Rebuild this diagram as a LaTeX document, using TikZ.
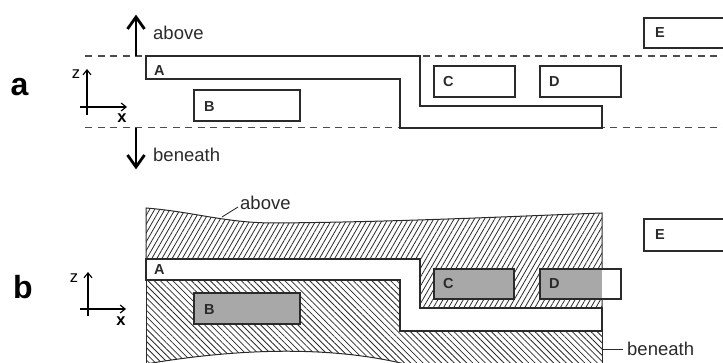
\documentclass[tikz,border=0pt]{standalone}
\usepackage{fontspec}
\setmainfont{Liberation Sans}
\usetikzlibrary{arrows.meta,patterns.meta}
\definecolor{boxgray}{HTML}{A8A8A8}
\definecolor{ink}{HTML}{2A2A2A}
\begin{document}
\begin{tikzpicture}[x=1pt,y=-1pt,
  box/.style={draw=ink, line width=1.6pt},
  lbl/.style={font=\bfseries\fontsize{14.5}{15}\selectfont, anchor=west, inner sep=0pt, text=ink},
  txt/.style={font=\fontsize{18.5}{19}\selectfont, inner sep=0pt, anchor=west, text=ink},
  panel/.style={font=\bfseries\fontsize{32}{32}\selectfont, inner sep=0pt},
  axlbl/.style={font=\fontsize{16.5}{17}\selectfont, inner sep=0pt},
  bigshaft/.style={draw=black, line width=2.6pt},
  bighead/.style={draw=black, line width=2.8pt, line join=miter, miter limit=10},
  axarrow/.style={draw=black, line width=1.1pt, -{Straight Barb[length=5pt,width=8pt,line width=1.1pt]}},
  dashline/.style={draw=black!70, line width=1.1pt, dash pattern=on 7pt off 5.5pt},
  hatchup/.style={pattern={Lines[angle=60,distance=4.4pt,line width=0.8pt]}, pattern color=ink},
  hatchdown/.style={pattern={Lines[angle=-45,distance=4.4pt,line width=0.8pt]}, pattern color=ink},
  thin/.style={draw=ink, line width=1pt}]
\useasboundingbox (0,0) rectangle (723,363);
\clip (0,0) rectangle (723,363);

% ---------------- panel a ----------------
\node[panel] (pa) at (19.5,87) {a};
\draw[dashline] (85,56) -- (723,56);
\draw[dashline] (85,127.5) -- (723,127.5);

\coordinate (aup0) at (136,56);
\coordinate (aup1) at (136,17);
\draw[bigshaft] (aup0) -- (aup1);
\draw[bighead] ([xshift=-8.5pt,yshift=-12pt]aup1) -- (aup1) -- ([xshift=8.5pt,yshift=-12pt]aup1);
\node[txt] (aabove) at (153,33) {above};
\coordinate (adn0) at (136,128);
\coordinate (adn1) at (136,167);
\draw[bigshaft] (adn0) -- (adn1);
\draw[bighead] ([xshift=-8.5pt,yshift=12pt]adn1) -- (adn1) -- ([xshift=8.5pt,yshift=12pt]adn1);
\node[txt] (abeneath) at (153,155) {beneath};

\coordinate (az0) at (87,115);
\coordinate (az1) at (87,69);
\coordinate (ax0) at (80,107);
\coordinate (ax1) at (127,107);
\draw[axarrow] (az0) -- (az1);
\draw[axarrow] (ax0) -- (ax1);
\node[axlbl] (azl) at (76,74) {z};
\node[axlbl,font=\bfseries\fontsize{16.5}{17}\selectfont] (axl) at (122,118) {x};

\draw[box, fill=white] (146,56) -- (420,56) -- (420,106) -- (602,106) -- (602,128) -- (400,128) -- (400,79) -- (146,79) -- cycle;
\node[lbl] (aA) at (154,70.5) {A};

\node[box, anchor=north west, minimum width=106pt, minimum height=31pt, inner sep=0pt] (aB) at (193,89) {};
\node[lbl] (aBl) at ([xshift=11pt,yshift=-1pt]aB.west) {B};
\node[box, anchor=north west, minimum width=81pt, minimum height=31pt, inner sep=0pt] (aC) at (433,65) {};
\node[lbl] (aCl) at ([xshift=10pt]aC.west) {C};
\node[box, anchor=north west, minimum width=81pt, minimum height=31pt, inner sep=0pt] (aD) at (539,65) {};
\node[lbl] (aDl) at ([xshift=10pt]aD.west) {D};
\node[box, anchor=north west, minimum width=100pt, minimum height=30pt, inner sep=0pt] (aE) at (643,17) {};
\node[lbl] (aEl) at ([xshift=12pt]aE.west) {E};

% ---------------- panel b ----------------
\node[panel] (pb) at (23,287) {b};

\coordinate (bz0) at (88,316);
\coordinate (bz1) at (88,272);
\coordinate (bx0) at (80,309);
\coordinate (bx1) at (126,309);
\draw[axarrow] (bz0) -- (bz1);
\draw[axarrow] (bx0) -- (bx1);
\node[axlbl] (bzl) at (74,278) {z};
\node[axlbl,font=\bfseries\fontsize{16.5}{17}\selectfont] (bxl) at (121,321) {x};

% upper hatched region (above)
\path[hatchup] (146,208) .. controls (195,212) and (225,223) .. (275,223) .. controls (400,222) and (520,216) .. (602,213) -- (602,308) -- (420,308) -- (420,259) -- (146,259) -- cycle;
\draw[thin] (146,259) -- (146,208) .. controls (195,212) and (225,223) .. (275,223) .. controls (400,222) and (520,216) .. (602,213) -- (602,308);

% lower hatched region (beneath)
\path[hatchdown] (146,280) -- (400,280) -- (400,331) -- (602,331) -- (602,370) -- (410,370) -- (405,364) .. controls (330,346) and (240,348) .. (146,364) -- cycle;
\draw[thin] (146,280) -- (146,370);
\draw[thin] (602,331) -- (602,370);
\draw[thin] (405,364) .. controls (330,346) and (240,348) .. (146,364);

% strip A
\draw[box, fill=white] (146,259) -- (420,259) -- (420,308) -- (602,308) -- (602,331) -- (400,331) -- (400,280) -- (146,280) -- cycle;
\node[lbl] (bA) at (154,270) {A};

% embedded boxes
\node[box, fill=boxgray, anchor=north west, minimum width=106pt, minimum height=31pt, inner sep=0pt] (bB) at (193,292) {};
\node[lbl] (bBl) at ([xshift=11pt,yshift=-1pt]bB.west) {B};
\node[box, fill=boxgray, anchor=north west, minimum width=80pt, minimum height=30pt, inner sep=0pt] (bC) at (433,268) {};
\node[lbl] (bCl) at ([xshift=10pt]bC.west) {C};
\fill[white] (539,268) rectangle (620,298);
\fill[boxgray] (539,268) rectangle (602,298);
\node[box, anchor=north west, minimum width=81pt, minimum height=30pt, inner sep=0pt] (bD) at (539,268) {};
\node[lbl] (bDl) at ([xshift=10pt]bD.west) {D};
\node[box, anchor=north west, minimum width=100pt, minimum height=32pt, inner sep=0pt] (bE) at (643,218) {};
\node[lbl] (bEl) at ([xshift=12pt]bE.west) {E};

% labels with leaders
\node[txt] (babove) at (240,203) {above};
\coordinate (babovept) at (222,217);
\draw[thin, line width=0.9pt] ([xshift=-2pt,yshift=-4pt]babove.west) -- (babovept);
\node[txt] (bbeneath) at (627,349) {beneath};
\coordinate (bbeneathpt) at (602,349);
\draw[thin, line width=0.9pt] (bbeneathpt) -- ([xshift=-4pt]bbeneath.west);
\end{tikzpicture}
\end{document}
